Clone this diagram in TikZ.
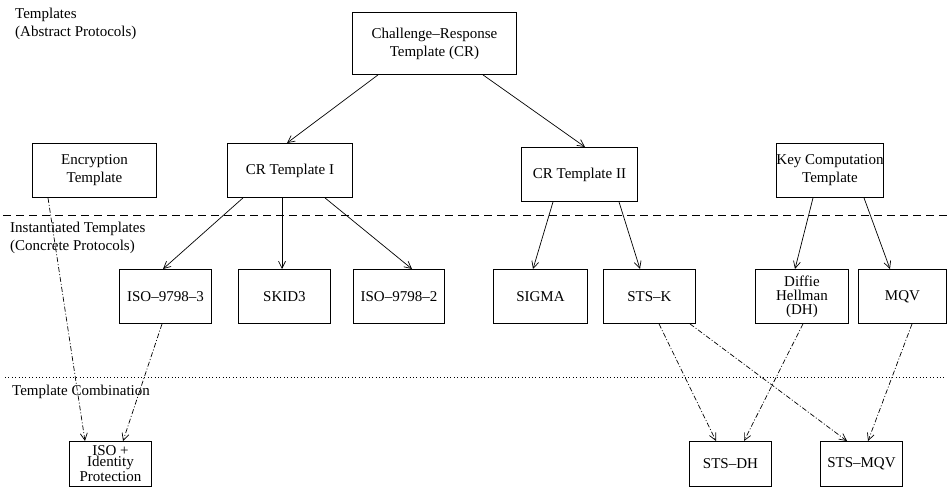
\documentclass[tikz,border=0pt]{standalone}
\usepackage{fontspec}
\setmainfont{Liberation Serif}
\usetikzlibrary{arrows.meta}
\begin{document}
\begin{tikzpicture}[x=1pt,y=-1pt,
  every node/.style={font=\fontsize{15}{18}\selectfont},
  box/.style={draw, line width=0.9pt, inner sep=0pt, anchor=north west, align=center},
  lbl/.style={anchor=north west, inner sep=0pt, align=left},
  solidarrow/.style={line width=0.7pt, -{Straight Barb[length=7pt,width=7pt]}},
  dasharrow/.style={line width=0.7pt, dash pattern=on 5pt off 2pt on 1pt off 2pt, -{Straight Barb[length=7pt,width=7pt]}},
  sepdash/.style={line width=0.7pt, dash pattern=on 8pt off 5pt},
  sepdot/.style={line width=0.7pt, dash pattern=on 0.8pt off 2.6pt}]
\fill[white] (0,0) rectangle (947,487);
\useasboundingbox (0,0) rectangle (947,487);

% section labels
\node[lbl] (lt) at (15,8) {Templates\\(Abstract Protocols)};
\node[lbl] (li) at (10,222) {Instantiated Templates\\(Concrete Protocols)};
\node[lbl] (lc) at (12,385) {Template Combination};

% separators
\coordinate (d1) at (3,215); \coordinate (d2) at (947,215);
\coordinate (p1) at (5,377); \coordinate (p2) at (947,377);
\draw[sepdash] (d1) -- (d2);
\draw[sepdot] (p1) -- (p2);

% boxes
\node[box, minimum width=164pt, minimum height=62pt] (cr) at (352,12) {Challenge--Response\\Template (CR)};
\node[box, minimum width=124pt, minimum height=54pt] (enc) at (32,143) {Encryption\\Template};
\node[box, minimum width=125pt, minimum height=54pt] (cr1) at (227,143) {CR Template I};
\node[box, minimum width=116pt, minimum height=54pt] (cr2) at (521,147) {CR Template II};
\node[box, minimum width=103pt, minimum height=54pt] (kct) at (776,143) {Key Computation\\Template};

\node[box, minimum width=92pt, minimum height=54pt] (iso3) at (119,269) {ISO--9798--3};
\node[box, minimum width=92pt, minimum height=54pt] (skid) at (238,269) {SKID3};
\node[box, minimum width=91pt, minimum height=54pt] (iso2) at (353,269) {ISO--9798--2};
\node[box, minimum width=94pt, minimum height=54pt] (sigma) at (493,269) {SIGMA};
\node[box, minimum width=92pt, minimum height=54pt] (stsk) at (603,269) {STS--K};
\node[box, minimum width=93pt, minimum height=54pt] (dh) at (755,269) {Diffie\\[-4pt]Hellman\\[-4pt](DH)};
\node[box, minimum width=88pt, minimum height=54pt] (mqv) at (858,269) {MQV};

\node[box, minimum width=82pt, minimum height=45pt] (isoid) at (69,441) {ISO +\\[-7pt]Identity\\[-3pt]Protection};
\node[box, minimum width=82pt, minimum height=45pt] (stsdh) at (689,441) {STS--DH};
\node[box, minimum width=82pt, minimum height=45pt] (stsmqv) at (820,441) {STS--MQV};

% solid arrows
\draw[solidarrow] ([xshift=26pt]cr.south west) -- ([xshift=60pt]cr1.north west);
\draw[solidarrow] ([xshift=131pt]cr.south west) -- ([xshift=64pt]cr2.north west);
\draw[solidarrow] ([xshift=16pt]cr1.south west) -- ([xshift=44pt]iso3.north west);
\draw[solidarrow] ([xshift=55pt]cr1.south west) -- ([xshift=44pt]skid.north west);
\draw[solidarrow] ([xshift=98pt]cr1.south west) -- ([xshift=59pt]iso2.north west);
\draw[solidarrow] ([xshift=32pt]cr2.south west) -- ([xshift=40pt]sigma.north west);
\draw[solidarrow] ([xshift=98pt]cr2.south west) -- ([xshift=37pt]stsk.north west);
\draw[solidarrow] ([xshift=37pt]kct.south west) -- ([xshift=40pt]dh.north west);
\draw[solidarrow] ([xshift=88pt]kct.south west) -- ([xshift=32pt]mqv.north west);

% dash-dot arrows
\draw[dasharrow] ([xshift=16pt]enc.south west) -- ([xshift=16pt]isoid.north west);
\draw[dasharrow] ([xshift=43pt]iso3.south west) -- ([xshift=54pt]isoid.north west);
\draw[dasharrow] ([xshift=56pt]stsk.south west) -- ([xshift=27pt]stsdh.north west);
\draw[dasharrow] ([xshift=87pt]stsk.south west) -- ([xshift=27pt]stsmqv.north west);
\draw[dasharrow] ([xshift=48pt]dh.south west) -- ([xshift=55pt]stsdh.north west);
\draw[dasharrow] ([xshift=54pt]mqv.south west) -- ([xshift=48pt]stsmqv.north west);
\end{tikzpicture}
\end{document}
